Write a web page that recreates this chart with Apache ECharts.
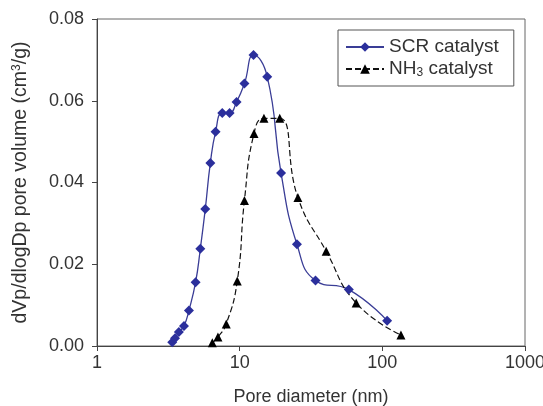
<!DOCTYPE html>
<html>
<head>
<meta charset="utf-8">
<script src="https://cdn.jsdelivr.net/npm/echarts@6/dist/echarts.min.js"></script>
<style>
  html, body { margin: 0; padding: 0; background: #fff; }
  #main { width: 543px; height: 406px; }
</style>
</head>
<body>
<div id="main"></div>
<script>
// pore size distribution
const scrDiameter = [3.37, 3.52, 3.75, 4.07, 4.41, 4.91, 5.30, 5.74, 6.23, 6.78, 7.55, 8.50, 9.51, 10.8, 12.5, 15.6, 19.5, 25.2, 34.0, 58.2, 108];
const scrVolume = [0.0009, 0.0019, 0.0034, 0.0049, 0.0087, 0.0156, 0.0238, 0.0335, 0.0448, 0.0524, 0.0570, 0.0570, 0.0597, 0.0642, 0.0712, 0.0659, 0.0423, 0.0249, 0.0160, 0.0138, 0.0062];
const nh3Diameter = [6.43, 7.04, 8.05, 9.62, 10.8, 12.6, 14.8, 19.1, 25.6, 40.4, 65.6, 135];
const nh3Volume = [0.0008, 0.0022, 0.0054, 0.0159, 0.0356, 0.0520, 0.0557, 0.0557, 0.0363, 0.0232, 0.0105, 0.0027];

const font = 'Liberation Sans, Arial, sans-serif';
const txt = '#333';

const myChart = echarts.init(document.getElementById('main'));
myChart.setOption({
  animation: false,
  grid: {
    left: 97, right: 18, top: 19, bottom: 60,
    outerBoundsMode: 'none',
    containLabel: false,
    show: true, borderColor: '#666', borderWidth: 1
  },
  legend: {
    orient: 'vertical',
    left: 338, top: 30,
    padding: [7, 15, 7, 7],
    itemWidth: 38, itemHeight: 12, itemGap: 2,
    borderColor: '#555', borderWidth: 1,
    textStyle: {
      fontFamily: font, fontSize: 19, color: txt, lineHeight: 20,
      rich: { s: { fontFamily: font, fontSize: 12, color: txt, verticalAlign: 'bottom', padding: [6, 0, 0, 0] } }
    },
    formatter: (name) => name === 'NH3 catalyst' ? 'NH{s|3} catalyst' : name,
    data: ['SCR catalyst', 'NH3 catalyst']
  },
  xAxis: {
    type: 'log', logBase: 10, min: 1, max: 1000,
    name: 'Pore diameter (nm)', nameLocation: 'middle', nameGap: 42,
    nameTextStyle: { fontFamily: font, fontSize: 18, color: txt },
    axisLine: { lineStyle: { color: '#444' } },
    axisTick: { show: true, length: 5, lineStyle: { color: '#444' } },
    minorTick: { show: false },
    splitLine: { show: false },
    axisLabel: { fontFamily: font, fontSize: 18, color: txt, margin: 8, formatter: (v) => String(Math.round(v)) }
  },
  yAxis: {
    type: 'value', min: 0, max: 0.08, interval: 0.02,
    name: 'dVp/dlogDp pore volume (cm{sup|3}/g)', nameLocation: 'middle', nameGap: 66,
    nameTextStyle: {
      fontFamily: font, fontSize: 19.5, color: txt,
      rich: { sup: { fontFamily: font, fontSize: 12, color: txt, verticalAlign: 'top', padding: [0, 0, 8, 0] } }
    },
    axisLine: { show: true, lineStyle: { color: '#444' } },
    axisTick: { show: true, length: 5, lineStyle: { color: '#444' } },
    splitLine: { show: false },
    axisLabel: { fontFamily: font, fontSize: 18, color: txt, margin: 13, formatter: (v) => v.toFixed(2) }
  },
  series: [
    {
      name: 'SCR catalyst',
      type: 'line',
      smooth: 0.5,
      symbol: 'diamond',
      symbolSize: 10,
      itemStyle: { color: '#2B2F9C' },
      lineStyle: { color: '#3A3D96', width: 1.3 },
      data: scrDiameter.map((d, i) => [d, scrVolume[i]])
    },
    {
      name: 'NH3 catalyst',
      type: 'line',
      smooth: 0.5,
      symbol: 'triangle',
      symbolSize: 9,
      itemStyle: { color: '#000' },
      lineStyle: { color: '#111', width: 1.2, type: [6, 3] },
      data: nh3Diameter.map((d, i) => [d, nh3Volume[i]])
    }
  ]
});
</script>
</body>
</html>
